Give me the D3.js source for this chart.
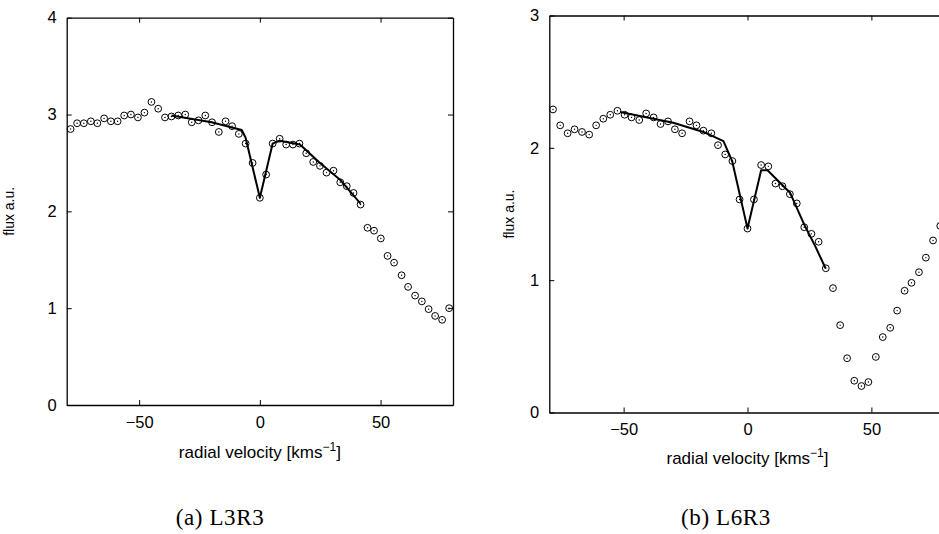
<!DOCTYPE html>
<html>
<head>
<meta charset="utf-8">
<script src="https://cdn.jsdelivr.net/npm/d3@7"></script>
<style>
  body { margin: 0; background: #fff; }
</style>
</head>
<body>
<div id="chart"></div>
<script>
"use strict";

// panel (a) L3R3: observed points
const leftVel = [-78.4, -75.7, -72.9, -70.0, -67.3, -64.5, -61.7, -58.9, -56.2, -53.4,
    -50.5, -47.8, -44.9, -42.1, -39.3, -36.6, -33.8, -30.9, -28.2, -25.4,
    -22.6, -19.8, -17.0, -14.2, -11.5, -8.7, -5.9, -3.0, 0.0, 2.6,
    5.3, 8.2, 10.9, 13.7, 16.4, 19.2, 22.1, 24.9, 27.6, 30.5,
    33.3, 36.0, 38.8, 41.7, 44.6, 47.3, 50.1, 52.9, 55.6, 58.7,
    61.4, 64.3, 67.1, 69.9, 72.6, 75.5, 78.4];
const leftFlux = [2.85, 2.91, 2.91, 2.93, 2.91, 2.96, 2.93, 2.93, 2.99, 3.00,
    2.97, 3.02, 3.13, 3.06, 2.97, 2.98, 2.99, 3.00, 2.92, 2.94,
    2.99, 2.92, 2.82, 2.93, 2.88, 2.80, 2.70, 2.50, 2.14, 2.38,
    2.70, 2.75, 2.69, 2.69, 2.70, 2.60, 2.51, 2.47, 2.40, 2.42,
    2.30, 2.26, 2.19, 2.07, 1.83, 1.80, 1.72, 1.54, 1.47, 1.34,
    1.22, 1.13, 1.07, 0.99, 0.92, 0.88, 1.00];
// panel (a) fitted profile
const leftFitVel = [-36.6, -20.0, -7.5, -5.9, 0.0, 5.3, 8.2, 16.6, 24.9, 33.1, 41.7];
const leftFitFlux = [2.99, 2.92, 2.84, 2.76, 2.14, 2.70, 2.73, 2.69, 2.50, 2.33, 2.08];

// panel (b) L6R3: observed points
const rightVel = [-78.5, -75.6, -72.6, -69.8, -66.8, -63.9, -61.1, -58.2, -55.4, -52.5,
    -49.6, -46.8, -43.7, -40.9, -37.9, -35.1, -32.1, -29.3, -26.4, -23.4,
    -20.6, -17.8, -14.6, -11.9, -9.0, -6.1, -3.2, 0.0, 2.6, 5.5,
    8.4, 11.3, 14.1, 17.1, 19.9, 22.9, 25.8, 28.7, 31.6, 34.5,
    37.4, 40.2, 43.1, 46.0, 48.8, 51.8, 54.6, 57.6, 60.4, 63.4,
    66.2, 69.2, 72.0, 74.9, 77.8];
const rightFlux = [2.29, 2.17, 2.11, 2.14, 2.12, 2.10, 2.17, 2.22, 2.25, 2.28,
    2.25, 2.23, 2.21, 2.26, 2.23, 2.18, 2.20, 2.14, 2.11, 2.20,
    2.17, 2.13, 2.11, 2.02, 1.95, 1.90, 1.61, 1.39, 1.61, 1.87,
    1.86, 1.73, 1.71, 1.65, 1.58, 1.40, 1.35, 1.29, 1.09, 0.94,
    0.66, 0.41, 0.24, 0.20, 0.23, 0.42, 0.57, 0.64, 0.77, 0.92,
    0.98, 1.06, 1.17, 1.30, 1.41];
// panel (b) fitted profile
const rightFitVel = [-51.4, -30.0, -17.8, -9.7, -6.2, 0.0, 5.5, 8.1, 11.3, 17.2, 22.9, 27.0, 31.5];
const rightFitFlux = [2.27, 2.19, 2.12, 2.05, 1.90, 1.39, 1.83, 1.83, 1.77, 1.66, 1.42, 1.27, 1.09];

const xTicks = [-50, 0, 50];
const leftYTicks = [0, 1, 2, 3, 4];
const rightYTicks = [0, 1, 2, 3];
const xLabel = "radial velocity [kms";
const yLabel = "flux a.u.";

const W = 939, H = 534;

const svg = d3.select("#chart")
    .append("svg")
    .attr("width", W)
    .attr("height", H)
    .style("display", "block");

const tickFont = "'Liberation Sans', Arial, sans-serif";

drawPanel({
    left: 66.7, right: 453, top: 17.7, bottom: 405,
    yMax: 4, yTicks: leftYTicks,
    vel: leftVel, flux: leftFlux, fitVel: leftFitVel, fitFlux: leftFitFlux,
    yLabelX: 14, xLabelY: 458,
    caption: "(a) L3R3", captionX: 220
});

drawPanel({
    left: 549.3, right: 945.7, top: 15.5, bottom: 412.5,
    yMax: 3, yTicks: rightYTicks,
    vel: rightVel, flux: rightFlux, fitVel: rightFitVel, fitFlux: rightFitFlux,
    yLabelX: 514, xLabelY: 464,
    caption: "(b) L6R3", captionX: 726
});

function drawPanel(p) {
    let xScale = d3.scaleLinear().domain([-80, 80]).range([p.left, p.right]);
    let yScale = d3.scaleLinear().domain([0, p.yMax]).range([p.bottom, p.top]);
    let g = svg.append("g");

    let xAxis = d3.axisBottom(xScale).tickValues(xTicks)
        .tickSizeInner(-5).tickSizeOuter(0).tickPadding(11)
        .tickFormat(d3.format("d"));
    let gx = g.append("g")
        .attr("transform", "translate(0," + p.bottom + ")")
        .call(xAxis);

    let yAxis = d3.axisLeft(yScale).tickValues(p.yTicks)
        .tickSizeInner(-5).tickSizeOuter(0).tickPadding(10)
        .tickFormat(d3.format("d"));
    let gy = g.append("g")
        .attr("transform", "translate(" + p.left + ",0)")
        .call(yAxis);

    let gt = g.append("g")
        .attr("transform", "translate(0," + p.top + ")")
        .call(d3.axisTop(xScale).tickValues(xTicks).tickSizeInner(-5).tickSizeOuter(0).tickFormat(""));
    let gr = g.append("g")
        .attr("transform", "translate(" + p.right + ",0)")
        .call(d3.axisRight(yScale).tickValues(p.yTicks).tickSizeInner(-5).tickSizeOuter(0).tickFormat(""));

    [gx, gy, gt, gr].forEach((a) => {
        a.selectAll(".domain").attr("stroke", "#000").attr("stroke-width", 1.3);
        a.selectAll(".tick line").attr("stroke", "#000").attr("stroke-width", 1);
        a.selectAll(".tick text")
            .style("font-family", tickFont)
            .style("font-size", "16.5px")
            .attr("fill", "#000");
    });

    // fitted profile
    let line = d3.line()
        .x((d) => xScale(d[0]))
        .y((d) => yScale(d[1]));
    g.append("path")
        .datum(p.fitVel.map((v, i) => [v, p.fitFlux[i]]))
        .attr("fill", "none")
        .attr("stroke", "#000")
        .attr("stroke-width", 2)
        .attr("stroke-linejoin", "round")
        .attr("d", line);

    // observed points: open circle with centre dot
    let pts = p.vel.map((v, i) => [v, p.flux[i]]);
    g.selectAll(".pt")
        .data(pts)
        .enter()
        .append("circle")
        .attr("cx", (d) => xScale(d[0]))
        .attr("cy", (d) => yScale(d[1]))
        .attr("r", 3.4)
        .attr("fill", "none")
        .attr("stroke", "#000")
        .attr("stroke-width", 1);
    g.selectAll(".dot")
        .data(pts)
        .enter()
        .append("circle")
        .attr("cx", (d) => xScale(d[0]))
        .attr("cy", (d) => yScale(d[1]))
        .attr("r", 0.7)
        .attr("fill", "#000");

    // axis labels
    let xl = g.append("text")
        .attr("x", xScale(0))
        .attr("y", p.xLabelY)
        .attr("text-anchor", "middle")
        .style("font-family", tickFont)
        .style("font-size", "17px")
        .text(xLabel);
    xl.append("tspan")
        .attr("dy", -7)
        .style("font-size", "12px")
        .text("\u22121");
    xl.append("tspan")
        .attr("dy", 7)
        .text("]");

    g.append("text")
        .attr("transform", "translate(" + p.yLabelX + "," + ((p.top + p.bottom) / 2) + ") rotate(-90)")
        .attr("text-anchor", "middle")
        .style("font-family", tickFont)
        .style("font-size", "14px")
        .text(yLabel);

    // caption
    g.append("text")
        .attr("x", p.captionX)
        .attr("y", 525)
        .attr("text-anchor", "middle")
        .style("font-family", "'Liberation Serif', 'Times New Roman', serif")
        .style("font-size", "23px")
        .style("letter-spacing", "0.6px")
        .text(p.caption);
}
</script>
</body>
</html>
